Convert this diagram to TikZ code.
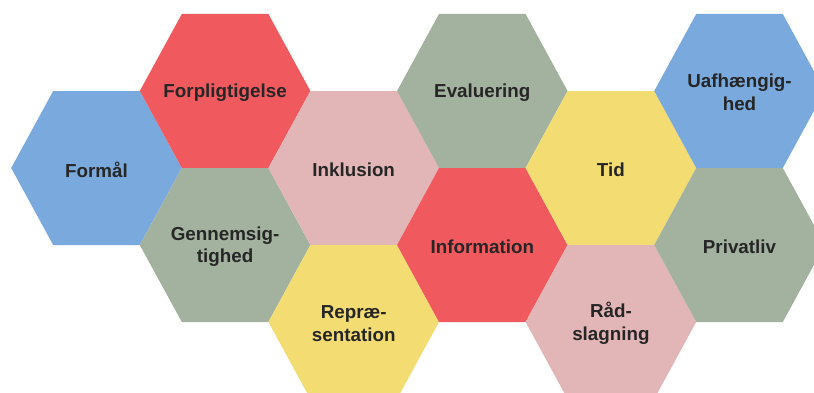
\documentclass[tikz,border=0pt]{standalone}
\usepackage{fontspec}
\setmainfont{Liberation Sans}
\definecolor{hblue}{RGB}{122,170,221}
\definecolor{hred}{RGB}{240,90,94}
\definecolor{hpink}{RGB}{226,181,183}
\definecolor{hgreen}{RGB}{162,178,158}
\definecolor{hyellow}{RGB}{243,221,115}
\definecolor{txt}{RGB}{38,38,38}
\tikzset{lbl/.style={font=\bfseries\fontsize{18.8}{22.5}\selectfont, text=txt, align=center, inner sep=0pt}}
\newcommand\hexcell[5]{%
  \fill[#4] (#2-85.3,392-#3) -- (#2-43.3,392-#3+77) -- (#2+43.3,392-#3+77) -- (#2+85.3,392-#3) -- (#2+43.3,392-#3-77) -- (#2-43.3,392-#3-77) -- cycle;
  \node[lbl] (#1) at (#2,392-#3-1.5) {#5};}
\begin{document}
\begin{tikzpicture}[x=1pt,y=1pt]
\useasboundingbox (0,0) rectangle (814,392);
\clip (0,0) rectangle (814,392);
\hexcell{formaal}{96.5}{168}{hblue}{Formål}
\hexcell{forpl}{225.1}{91}{hred}{Forpligtigelse}
\hexcell{genn}{225.1}{245}{hgreen}{Gennemsig-\\tighed}
\hexcell{inkl}{353.7}{168}{hpink}{Inklusion}
\hexcell{repr}{353.7}{322}{hyellow}{Repræ-\\sentation}
\hexcell{eval}{482.3}{91}{hgreen}{Evaluering}
\hexcell{info}{482.3}{245}{hred}{Information}
\hexcell{tid}{610.9}{168}{hyellow}{Tid}
\hexcell{raad}{610.9}{322}{hpink}{Råd-\\slagning}
\hexcell{uafh}{739.5}{91}{hblue}{Uafhængig-\\hed}
\hexcell{priv}{739.5}{245}{hgreen}{Privatliv}
\end{tikzpicture}
\end{document}
